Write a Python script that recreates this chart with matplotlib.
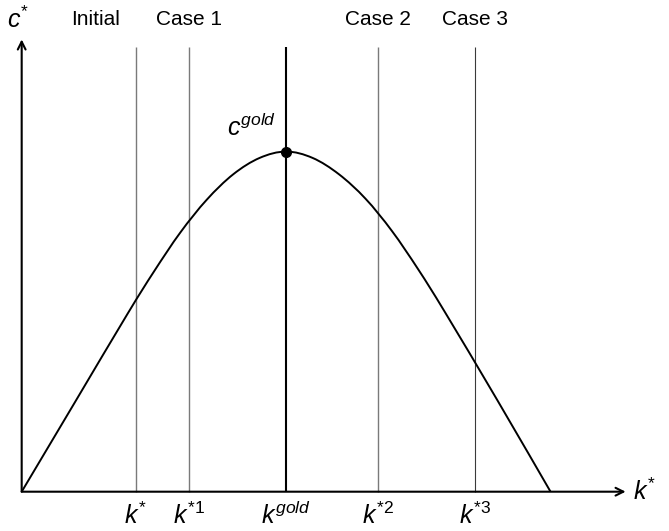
import matplotlib
matplotlib.use("Agg")
import matplotlib.pyplot as plt
from matplotlib.path import Path
from matplotlib.patches import PathPatch
import numpy as np

plt.rcParams['font.family'] = ['Liberation Sans', 'DejaVu Sans']
plt.rcParams['mathtext.fontset'] = 'custom'
plt.rcParams['mathtext.it'] = 'Liberation Sans:italic'
plt.rcParams['mathtext.rm'] = 'Liberation Sans'

# Curve c*(k*)
k_vals = [0, 1.0, 2.0, 2.5, 3.0, 3.5, 4.0, 4.5, 5.0, 5.5, 6.0, 6.5, 7.0, 7.5, 8.0, 9.0, 10.0]
c_vals = [0, 1.68, 3.36, 4.16, 4.90, 5.52, 6.00, 6.31, 6.43, 6.31, 6.00, 5.54, 4.93, 4.20, 3.40, 1.72, 0]

# Vertical reference lines
line_k = [2.155, 3.157, 5.0, 6.73, 8.58]
line_top_labels = ["Initial", "Case 1", "", "Case 2", "Case 3"]
line_bottom_labels = [r"$k^{*}$", r"$k^{*1}$", r"$k^{gold}$", r"$k^{*2}$", r"$k^{*3}$"]
gold_k, gold_c = 5.0, 6.43

fig = plt.figure(figsize=(6.69, 5.31), dpi=100)
ax = fig.add_axes([0, 0, 1, 1])
ax.set_xlim(-0.41, 12.24)
ax.set_ylim(-0.743, 9.295)
ax.axis('off')

# smooth curve (Catmull-Rom through read points)
P = np.column_stack([k_vals, c_vals])
verts = [tuple(P[0])]
codes = [Path.MOVETO]
n = len(P)
for i in range(n - 1):
    p0 = P[i - 1] if i > 0 else P[i]
    p1 = P[i]
    p2 = P[i + 1]
    p3 = P[i + 2] if i + 2 < n else P[i + 1]
    c1 = p1 + (p2 - p0) / 6.0
    c2 = p2 - (p3 - p1) / 6.0
    verts += [tuple(c1), tuple(c2), tuple(p2)]
    codes += [Path.CURVE4] * 3
ax.add_patch(PathPatch(Path(verts, codes), fill=False, lw=1.4, color='black', zorder=3))

top_y = 8.40
styles = [('#7a7a7a', 1.0), ('#7a7a7a', 1.0), ('black', 1.5), ('#7a7a7a', 1.0), ('#3a3a3a', 0.8)]
for x, (col, lw) in zip(line_k, styles):
    ax.plot([x, x], [0, top_y], color=col, lw=lw, zorder=2, solid_capstyle='butt')

# axes arrows
ax.annotate('', xy=(11.42, 0), xytext=(0, 0),
            arrowprops=dict(arrowstyle='->', lw=1.5, color='black', shrinkA=0, shrinkB=0,
                            mutation_scale=14))
ax.annotate('', xy=(0, 8.55), xytext=(0, 0),
            arrowprops=dict(arrowstyle='->', lw=1.5, color='black', shrinkA=0, shrinkB=0,
                            mutation_scale=14))

ax.plot([gold_k], [gold_c], 'o', color='black', ms=7, zorder=4)

# labels
label_y = 8.92
top_x = [1.4, 3.157, None, 6.73, 8.58]
for x, t in zip(top_x, line_top_labels):
    if t:
        ax.text(x, label_y, t, ha='center', va='center', fontsize=15)
ax.text(-0.06, label_y, r"$c^{*}$", ha='center', va='center', fontsize=18)
ax.text(4.35, 6.88, r"$c^{gold}$", ha='center', va='center', fontsize=18)
ax.text(11.55, 0, r"$k^{*}$", ha='left', va='center', fontsize=18)
for x, t in zip(line_k, line_bottom_labels):
    ax.text(x, -0.2, t, ha='center', va='top', fontsize=18)

fig.savefig("out.png", dpi=100)
